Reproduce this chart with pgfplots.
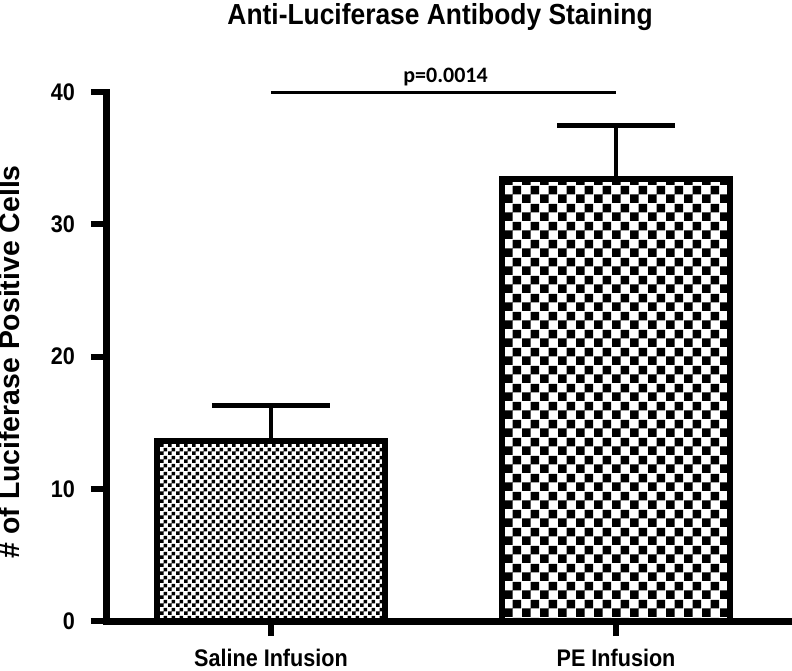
\documentclass[border=0pt]{standalone}
\usepackage{pgfplots}
\pgfplotsset{compat=1.18}
\usetikzlibrary{patterns}
\usepackage{fontspec}
\setmainfont{Liberation Sans}
\newfontfamily\tickfont[FakeStretch=0.9]{Liberation Sans}
\newfontfamily\titlefont[FakeStretch=0.91]{Liberation Sans}
\newfontfamily\carlito{Carlito}

% checkerboards of two sizes
\pgfdeclarepatternformonly{finechecker}{\pgfpointorigin}{\pgfqpoint{4pt}{4pt}}{\pgfqpoint{4pt}{4pt}}{%
  \pgfpathrectangle{\pgfpointorigin}{\pgfqpoint{2pt}{2pt}}%
  \pgfpathrectangle{\pgfqpoint{2pt}{2pt}}{\pgfqpoint{2pt}{2pt}}%
  \pgfusepath{fill}}
\pgfdeclarepatternformonly{coarsechecker}{\pgfpointorigin}{\pgfqpoint{9pt}{9pt}}{\pgfqpoint{9pt}{9pt}}{%
  \pgfpathrectangle{\pgfpointorigin}{\pgfqpoint{4.5pt}{4.5pt}}%
  \pgfpathrectangle{\pgfqpoint{4.5pt}{4.5pt}}{\pgfqpoint{4.5pt}{4.5pt}}%
  \pgfusepath{fill}}

\begin{document}
\begin{tikzpicture}
\useasboundingbox (-53pt,-24.5pt) rectangle (343pt,310.5pt);
\begin{axis}[
    at={(0,0)}, anchor=south west,
    scale only axis,
    width=343pt, height=264.5pt,
    ybar, bar width=0.66, bar shift=0pt,
    xmin=-0.478, xmax=1.51,
    ymin=0, ymax=40,
    clip=false,
    axis lines=left,
    axis line style={-, line width=3.5pt, line cap=rect},
    xtick={0,1},
    xticklabels={Saline Infusion, PE Infusion},
    ytick={0,10,20,30,40},
    tick align=outside,
    major tick length=7.5pt,
    tick style={line width=3pt, black},
    ticklabel style={font=\tickfont\bfseries\fontsize{12}{14}\selectfont},
    xticklabel style={yshift=-3pt},
    yticklabel style={xshift=-4.5pt},
    /pgf/number format/assume math mode=true,
    title={Anti-Luciferase Antibody Staining},
    title style={at={(rel axis cs:0.487,1)}, anchor=base, yshift=28pt,
                 font=\titlefont\bfseries\fontsize{14.5}{16}\selectfont},
    ylabel={\# of Luciferase Positive Cells},
    ylabel style={at={(rel axis cs:-0.1254,0.49)}, anchor=base,
                  font=\bfseries\fontsize{14.2}{16}\selectfont},
    error bars/y dir=plus,
    error bars/y explicit,
    error bars/error bar style={line width=2.2pt, black},
    error bars/error mark options={rotate=90, mark size=29.5pt, line width=2.2pt, black},
]
\addplot[draw=black, line width=3pt, pattern=finechecker, pattern color=black]
    coordinates {(0,13.6) +- (0,2.7)};
\addplot[draw=black, line width=3pt, pattern=coarsechecker, pattern color=black]
    coordinates {(1,33.4) +- (0,4.07)};

\draw[line width=1.5pt] (axis cs:0,40) -- (axis cs:1,40);
\node[anchor=base, yshift=5pt, font=\carlito\bfseries\fontsize{11}{13}\selectfont]
    at (axis cs:0.506,40) {p=0.0014};
\end{axis}
\end{tikzpicture}
\end{document}
